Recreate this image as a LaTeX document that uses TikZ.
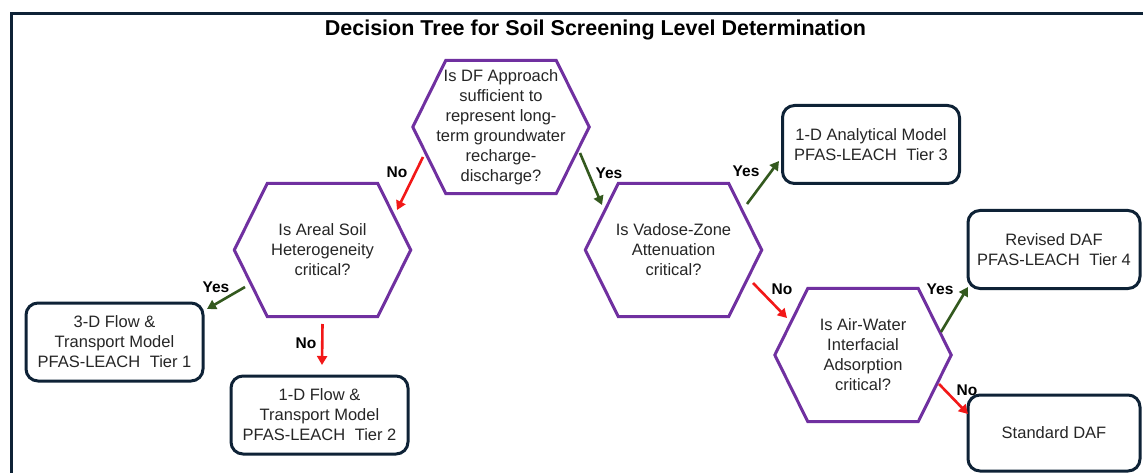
\documentclass[tikz,border=0pt]{standalone}
\usepackage{fontspec}
\setmainfont{Liberation Sans}
\usetikzlibrary{arrows.meta,calc}
\definecolor{navy}{HTML}{0E2236}
\definecolor{hexpurple}{HTML}{7030A0}
\definecolor{arrred}{HTML}{F21818}
\definecolor{arrgreen}{HTML}{33591E}
\definecolor{txt}{HTML}{262626}
\begin{document}
\begin{tikzpicture}[x=1pt,y=-1pt,
  hexnode/.style={shape=rectangle, inner sep=0pt, minimum width=176pt, minimum height=133pt,
    align=center, text=txt, font=\fontsize{16.5}{20}\selectfont},
  hexline/.style={draw=hexpurple, line width=3pt, line join=miter},
  endbox/.style={draw=navy, line width=3pt, rounded corners=12pt, inner sep=0pt,
    minimum width=177pt, minimum height=78pt, align=center, text=txt,
    font=\fontsize{16.5}{20}\selectfont},
  yesarrow/.style={draw=arrgreen, line width=2.6pt, -{Triangle[length=9pt,width=10pt]}},
  noarrow/.style={draw=arrred, line width=2.6pt, -{Triangle[length=9pt,width=10pt]}},
  lab/.style={font=\bfseries\fontsize{15.5}{18}\selectfont, text=black, inner sep=0pt},
  titlestyle/.style={font=\bfseries\fontsize{21.5}{24}\selectfont, text=black, inner sep=0pt},
  framestyle/.style={draw=navy, line width=3pt}
]
\useasboundingbox (0,0) rectangle (1143,473);
\fill[white] (0,0) rectangle (1143,473);
\draw[framestyle] (1150,13.5) -- (11,13.5) -- (11,480);

\node[titlestyle] (title) at (595.5,30) {Decision Tree for Soil Screening Level Determination};

% decision hexagons
\node[hexnode] (df) at (501,127) {Is DF Approach\\sufficient to\\represent long-\\term groundwater\\recharge-\\discharge?};
\node[hexnode] (areal) at (322.5,250) {Is Areal Soil\\Heterogeneity\\critical?};
\node[hexnode] (vadose) at (673.5,250) {Is Vadose-Zone\\Attenuation\\critical?};
\node[hexnode] (air) at (863,355) {Is Air-Water\\Interfacial\\Adsorption\\critical?};
\foreach \n in {df,areal,vadose,air}
  \draw[hexline] (\n.west) -- ([xshift=33pt]\n.north west) -- ([xshift=-33pt]\n.north east)
    -- (\n.east) -- ([xshift=-33pt]\n.south east) -- ([xshift=33pt]\n.south west) -- cycle;

% outcome boxes
\node[endbox] (ana) at (871,144.5) {1-D Analytical Model\\PFAS-LEACH\hspace{0.3em} Tier 3};
\node[endbox, minimum width=172pt] (rev) at (1054,249.5) {Revised DAF\\PFAS-LEACH\hspace{0.3em} Tier 4};
\node[endbox, minimum width=172pt, minimum height=76pt] (std) at (1054,433) {Standard DAF};
\node[endbox] (flow3) at (114.5,342) {3-D Flow \&\\Transport Model\\PFAS-LEACH\hspace{0.3em} Tier 1};
\node[endbox] (flow1) at (319.5,415) {1-D Flow \&\\Transport Model\\PFAS-LEACH\hspace{0.3em} Tier 2};

% connectors
\draw[noarrow] ($(df)+(-78,30)$) -- ($(areal)+(74.5,-40)$);
\draw[yesarrow] ($(df)+(79,26)$) -- ($(vadose)+(-71.5,-45)$);
\draw[yesarrow] ($(vadose)+(73.5,-46)$) -- ($(ana)+(-92,16.5)$);
\draw[noarrow] ($(vadose)+(79.5,33)$) -- ($(air)+(-76,-37)$);
\draw[yesarrow] ($(air)+(78,-23)$) -- ($(rev)+(-86,37.5)$);
\draw[noarrow] ($(air)+(76,29)$) -- ($(std)+(-86,-19)$);
\draw[yesarrow] ($(areal)+(-77.5,37)$) -- ($(flow3)+(92.5,-33)$);
\draw[noarrow] ($(areal)+(0,74)$) -- ($(flow1)+(2.5,-50)$);

% labels
\node[lab] (l1) at (397,172) {No};
\node[lab] (l2) at (609,173) {Yes};
\node[lab] (l3) at (746,171) {Yes};
\node[lab] (l4) at (782,289) {No};
\node[lab] (l5) at (940,289) {Yes};
\node[lab] (l6) at (967,390) {No};
\node[lab] (l7) at (216,287) {Yes};
\node[lab] (l8) at (306,343) {No};
\end{tikzpicture}
\end{document}
